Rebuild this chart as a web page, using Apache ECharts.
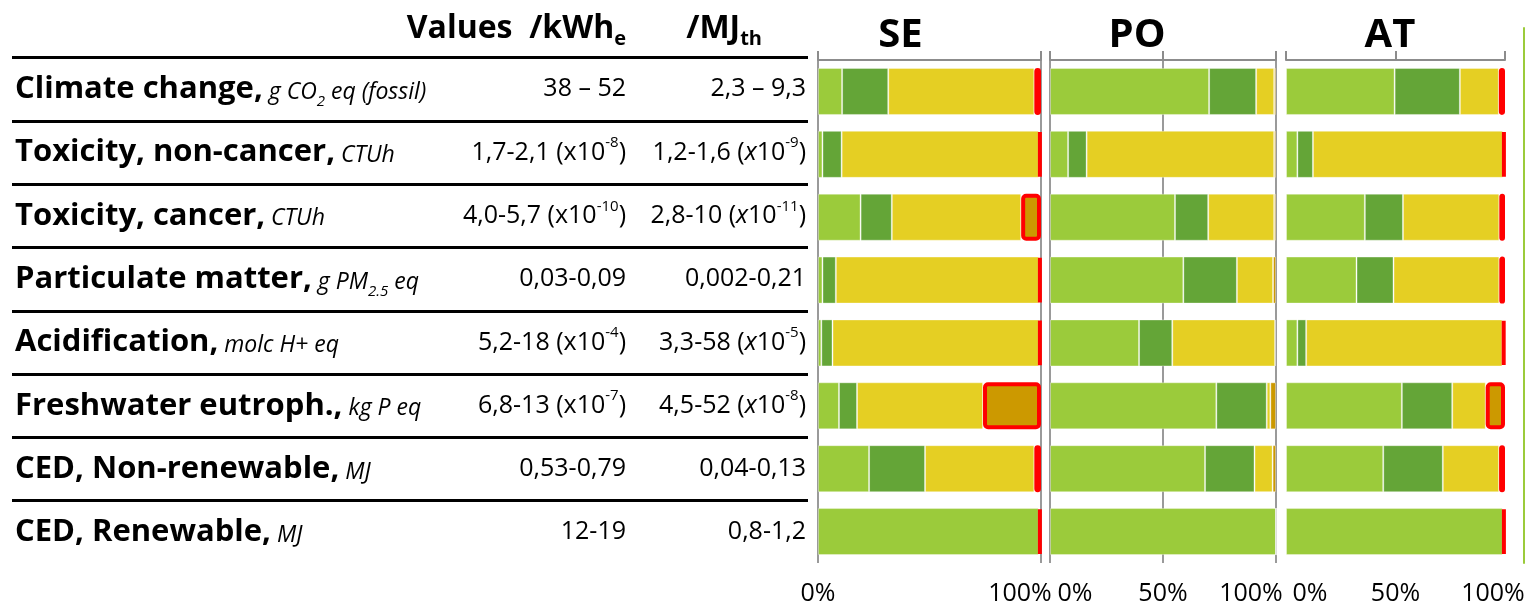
<!DOCTYPE html>
<html><head><meta charset="utf-8">
<script src="https://cdn.jsdelivr.net/npm/echarts@6/dist/echarts.min.js"></script>
<style>html,body{margin:0;padding:0;background:#fff}#c{width:1527px;height:613px}</style>
</head><body><div id="c"></div>
<script>
// ---------- data ----------
const categories = ['Climate change', 'Toxicity, non-cancer', 'Toxicity, cancer', 'Particulate matter', 'Acidification', 'Freshwater eutroph.', 'CED, Non-renewable', 'CED, Renewable'];
const units = ['g CO_{2} eq (fossil)', 'CTUh', 'CTUh', 'g PM_{2.5} eq', 'molc H+ eq', 'kg P eq', 'MJ', 'MJ'];
const perKWh = ['38 – 52', '1,7-2,1 (x10^{-8})', '4,0-5,7 (x10^{-10})', '0,03-0,09', '5,2-18 (x10^{-4})', '6,8-13 (x10^{-7})', '0,53-0,79', '12-19'];
const perMJ = ['2,3 – 9,3', '1,2-1,6 (*{x}10^{-9})', '2,8-10 (*{x}10^{-11})', '0,002-0,21', '3,3-58 (*{x}10^{-5})', '4,5-52 (*{x}10^{-8})', '0,04-0,13', '0,8-1,2'];
const headerKWh = 'Values  /kWh_{e}';
const headerMJ = '/MJ_{th}';
const panelNames = ['SE', 'PO', 'AT'];

const seLight  = [10.8, 2, 19.1, 2, 1.5, 9.4, 22.9, 99];
const seDark   = [20.7, 8.6, 14, 6, 5, 8.1, 25.1, 0];
const seYellow = [65.5, 88.4, 58, 91, 92.5, 56.5, 49, 0];
const seGold   = [3, 1, 8.9, 1, 1, 26, 3, 1];

const poLight  = [70.4, 8, 55.3, 59, 39.4, 73.6, 68.6, 100];
const poDark   = [20.8, 8.2, 14.7, 23.7, 14.7, 22.3, 21.9, 0];
const poYellow = [8, 83, 29.2, 16, 45.5, 1.6, 8, 0];
const poGold   = [0.8, 0.8, 0.8, 1.3, 0.4, 2.5, 1.5, 0];

const atLight  = [49.6, 5.2, 36, 32.2, 5.2, 52.9, 44.4, 99];
const atDark   = [29.8, 7.1, 17.4, 16.9, 4, 23, 27.2, 0];
const atYellow = [17.8, 86.7, 44, 48.3, 89.6, 15.3, 25.7, 0];
const atGold   = [2.8, 1, 2.6, 2.6, 1.2, 8.8, 2.7, 1];

// ---------- helpers ----------
const FONT = '"Open Sans", "Noto Sans", sans-serif';
function toRich(str, base, sub, sup, ital) {
  return str.split(/(_\{[^}]*\}|\^\{[^}]*\}|\*\{[^}]*\})/).filter(s => s.length).map(p => {
    if (p.startsWith('_{')) return '{' + sub + '|' + p.slice(2, -1) + '}';
    if (p.startsWith('^{')) return '{' + sup + '|' + p.slice(2, -1) + '}';
    if (p.startsWith('*{')) return '{' + ital + '|' + p.slice(2, -1) + '}';
    return '{' + base + '|' + p + '}';
  }).join('');
}
const C = { light: '#9BCB3B', dark: '#64A537', yellow: '#E5CF23', gold: '#CC9900', red: '#FF0000', grid: '#8C8C8C' };

const valueRich = {
  v:  { fontFamily: FONT, fontSize: 25, color: '#000', lineHeight: 34 },
  vi: { fontFamily: FONT, fontSize: 25, fontStyle: 'italic', color: '#000', lineHeight: 34 },
  vs: { fontFamily: FONT, fontSize: 15, color: '#000', lineHeight: 22, verticalAlign: 'top' }
};
const headRich = {
  b: { fontFamily: FONT, fontSize: 32, fontWeight: 'bold', color: '#000', lineHeight: 42 },
  s: { fontFamily: FONT, fontSize: 20, fontWeight: 'bold', color: '#000', lineHeight: 20, verticalAlign: 'bottom' }
};

const panels = [
  { left: 818, width: 223, interval: 100, split: true,  marked: true,  data: [seLight, seDark, seYellow, seGold], titlePad: 58,
    mn: [0, 0, 0, 0], mx: [0, 42, 0, 0] },
  { left: 1050, width: 226, interval: 50, split: true,  marked: false, data: [poLight, poDark, poYellow, poGold], titlePad: 52,
    mn: [0, 0, 0, 50], mx: [0, 50, 0, 0] },
  { left: 1286, width: 219, interval: 50, split: false, marked: true,  data: [atLight, atDark, atYellow, atGold], titlePad: 11,
    mn: [0, 0, 0, 48], mx: [0, 24, 0, 0] }
];

const grid = [
  { left: 12, top: 57.5, width: 796, height: 506.5, outerBoundsMode: 'none' }
];
const xAxis = [{ gridIndex: 0, type: 'value', min: 0, max: 1, show: false }];
const yAxis = [
  { gridIndex: 0, type: 'category', data: categories, inverse: true, position: 'left',
    axisLine: { show: false }, axisTick: { show: false }, splitLine: { show: false },
    axisLabel: { inside: true, margin: 3, interval: 0,
      formatter: (v, i) => '{n|' + v + ',}' + toRich(' ' + units[i], 'u', 'us', 'us', 'u'),
      rich: {
        n:  { fontFamily: FONT, fontSize: 31, fontWeight: 'bold', color: '#000', lineHeight: 36 },
        u:  { fontFamily: FONT, fontSize: 23, fontStyle: 'italic', color: '#000', lineHeight: 30, padding: [6, 0, 0, 0] },
        us: { fontFamily: FONT, fontSize: 15, fontStyle: 'italic', color: '#000', lineHeight: 10, padding: [26, 0, 0, 0] }
      } } },
  { gridIndex: 0, type: 'category', data: perKWh, inverse: true, position: 'right', offset: -182,
    axisLine: { show: false }, axisTick: { show: false }, splitLine: { show: false },
    name: toRich(headerKWh, 'b', 's', 's', 'b'), nameLocation: 'start', nameGap: 8,
    nameTextStyle: { align: 'right', verticalAlign: 'bottom', rich: headRich },
    axisLabel: { inside: true, margin: 0, interval: 0, formatter: (v) => toRich(v, 'v', 'vs', 'vs', 'vi'), rich: valueRich } },
  { gridIndex: 0, type: 'category', data: perMJ, inverse: true, position: 'right', offset: 0,
    axisLine: { show: false }, axisTick: { show: false }, splitLine: { show: false },
    name: toRich(headerMJ, 'b', 's', 's', 'b'), nameLocation: 'start', nameGap: 8,
    nameTextStyle: { align: 'right', verticalAlign: 'bottom', padding: [0, 46, 0, 0], rich: headRich },
    axisLabel: { inside: true, margin: 2, interval: 0, formatter: (v) => toRich(v, 'v', 'vs', 'vs', 'vi'), rich: valueRich } },
  { gridIndex: 0, type: 'value', min: 0, max: categories.length, interval: 1, inverse: true, position: 'left',
    axisLine: { show: false }, axisTick: { show: false }, axisLabel: { show: false },
    splitLine: { show: true, showMaxLine: false, lineStyle: { color: '#000', width: 3 } } }
];
const series = [];

panels.forEach((p, k) => {
  const gi = grid.length;
  grid.push({ left: p.left, top: 60, width: p.width, height: 503, outerBoundsMode: 'none' });
  const xTop = xAxis.length;
  xAxis.push({
    gridIndex: gi, type: 'value', min: 0, max: 100, interval: p.interval, position: 'top',
    name: panelNames[k], nameLocation: 'middle', nameGap: 4,
    nameTextStyle: { fontFamily: FONT, fontSize: 40, fontWeight: 'bold', color: '#000', verticalAlign: 'bottom', padding: [0, p.titlePad, 0, 0] },
    axisLine: { show: true, lineStyle: { color: C.grid, width: 2 } },
    axisTick: { show: true, length: 9, lineStyle: { color: C.grid, width: 2 } },
    axisLabel: { show: false },
    splitLine: { show: p.split, lineStyle: { color: '#9A9A9A', width: 2 } }
  });
  xAxis.push({
    gridIndex: gi, type: 'value', min: 0, max: 100, interval: p.interval, position: 'bottom',
    axisLine: { show: false }, axisTick: { show: false }, splitLine: { show: false },
    axisLabel: { show: true, margin: 18,
      formatter: (v) => v === 0 ? '{mn|' + v + '%}' : (v === 100 ? '{mx|' + v + '%}' : '{md|' + v + '%}'),
      rich: {
        mn: { fontFamily: FONT, fontSize: 25, color: '#000', padding: p.mn },
        md: { fontFamily: FONT, fontSize: 25, color: '#000' },
        mx: { fontFamily: FONT, fontSize: 25, color: '#000', padding: p.mx }
      } }
  });
  const yi = yAxis.length;
  yAxis.push({ gridIndex: gi, type: 'category', data: categories, inverse: true, show: false });
  const cols = [C.light, C.dark, C.yellow, C.gold];
  p.data.forEach((arr, s) => {
    const isGold = s === 3;
    series.push({
      type: 'bar', name: panelNames[k] + s, xAxisIndex: xTop, yAxisIndex: yi, stack: 'st' + k,
      barWidth: 47, data: arr, silent: true, z: isGold ? 3 : 2,
      itemStyle: (isGold && p.marked)
        ? { color: C.gold, borderColor: C.red, borderWidth: 4, borderRadius: 3 }
        : { color: cols[s], borderColor: 'rgba(255,255,255,0.35)', borderWidth: 1 }
    });
  });
});

// thin green edge line at the right
grid.push({ left: 1524, top: 28, width: 1, height: 535, outerBoundsMode: 'none' });
xAxis.push({ gridIndex: grid.length - 1, type: 'value', min: 0, max: 1, show: false });
yAxis.push({ gridIndex: grid.length - 1, type: 'value', min: 0, max: 1, position: 'left',
  axisLine: { show: true, lineStyle: { color: C.light, width: 2 } }, axisTick: { show: false },
  axisLabel: { show: false }, splitLine: { show: false } });

const chart = echarts.init(document.getElementById('c'), null, { renderer: 'canvas' });
chart.setOption({ animation: false, backgroundColor: '#fff', grid, xAxis, yAxis, series });
</script></body></html>
